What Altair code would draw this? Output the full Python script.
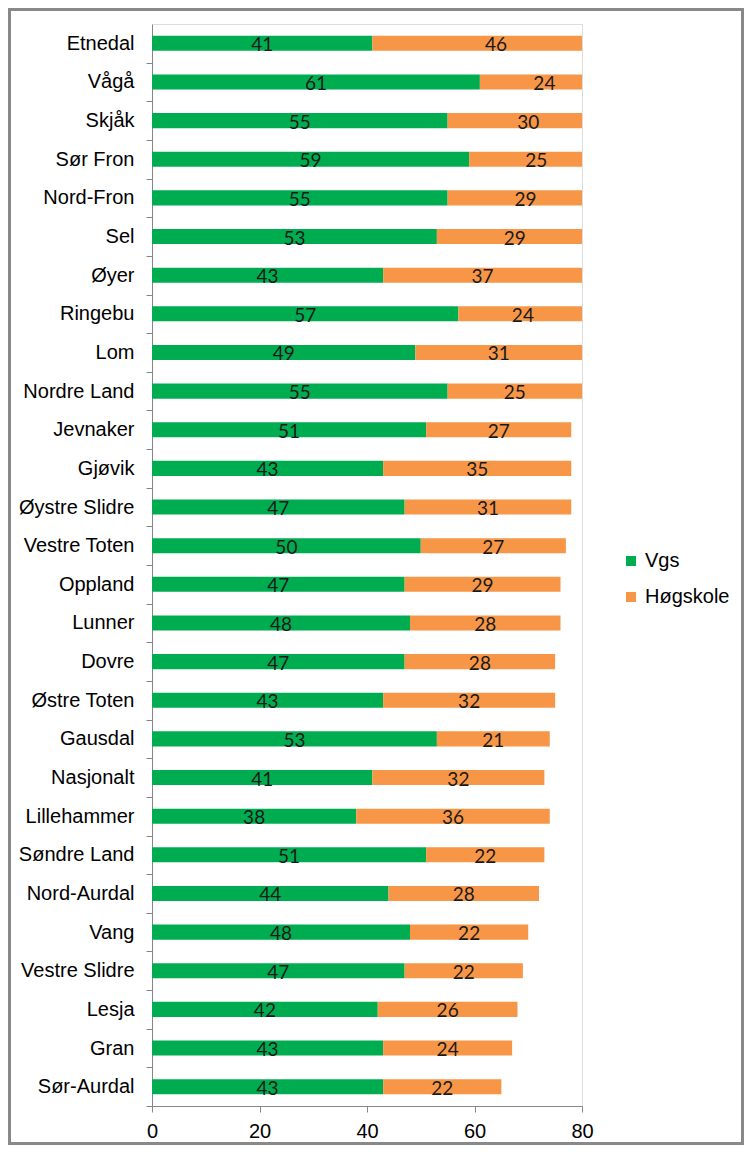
import altair as alt
import pandas as pd

categories = ["Etnedal", "Vågå", "Skjåk", "Sør Fron", "Nord-Fron", "Sel", "Øyer",
              "Ringebu", "Lom", "Nordre Land", "Jevnaker", "Gjøvik", "Øystre Slidre",
              "Vestre Toten", "Oppland", "Lunner", "Dovre", "Østre Toten", "Gausdal",
              "Nasjonalt", "Lillehammer", "Søndre Land", "Nord-Aurdal", "Vang",
              "Vestre Slidre", "Lesja", "Gran", "Sør-Aurdal"]
vgs = [41, 61, 55, 59, 55, 53, 43, 57, 49, 55, 51, 43, 47, 50, 47, 48, 47, 43, 53,
       41, 38, 51, 44, 48, 47, 42, 43, 43]
hogskole = [46, 24, 30, 25, 29, 29, 37, 24, 31, 25, 27, 35, 31, 27, 29, 28, 28, 32,
            21, 32, 36, 22, 28, 22, 22, 26, 24, 22]
series = ["Vgs", "Høgskole"]
colors = ["#00AC50", "#F79646"]
x_ticks = [0, 20, 40, 60, 80]

rows = []
for c, a, b in zip(categories, vgs, hogskole):
    rows.append({"cat": c, "series": series[0], "value": a, "start": 0, "end": a, "mid": a / 2})
    rows.append({"cat": c, "series": series[1], "value": b, "start": a, "end": a + b, "mid": a + b / 2})
df = pd.DataFrame(rows)

W, H = 430, 1082
PL, PT = 144, 16
SVG_W, SVG_H = 736, 1137
PR, PB = SVG_W - PL - W, SVG_H - PT - H

P_INNER = 0.61
STEP = H / len(categories)
TICK_SHIFT = P_INNER * STEP / 2

xscale = alt.Scale(domain=[0, 80], nice=False, zero=True)
yscale = alt.Scale(domain=categories, paddingInner=P_INNER, paddingOuter=P_INNER / 2)

base = alt.Chart(df)

bars = base.mark_bar(clip=True).encode(
    x=alt.X("start:Q", scale=xscale,
            axis=alt.Axis(values=x_ticks, title=None, grid=False, labelFontSize=20,
                          labelFont="Liberation Sans", labelColor="#000000",
                          tickSize=6, tickColor="#868686", domainColor="#868686",
                          labelPadding=9, labelFlush=False)),
    x2="end:Q",
    y=alt.Y("cat:N", scale=yscale, sort=categories,
            axis=alt.Axis(title=None, grid=False, labelFontSize=20,
                          labelFont="Liberation Sans", labelColor="#000000",
                          tickSize=6, tickColor="#868686", domainColor="#868686",
                          bandPosition=1, tickExtra=False, tickOffset=TICK_SHIFT,
                          labelOffset=-TICK_SHIFT, labelPadding=12)),
    color=alt.Color("series:N", scale=alt.Scale(domain=series, range=colors),
                    sort=series,
                    legend=alt.Legend(title=None, orient="none", legendX=469, legendY=527,
                                      symbolType="square", symbolSize=100,
                                      symbolStrokeWidth=0, labelFontSize=20,
                                      labelFont="Liberation Sans", labelColor="#000000",
                                      rowPadding=16, labelOffset=4, padding=0)),
)

labels = base.mark_text(font="Lato", fontSize=19, color="#1a1a1a", dy=2,
                        baseline="middle", align="center").encode(
    x=alt.X("mid:Q", scale=xscale),
    y=alt.Y("cat:N", scale=yscale, sort=categories),
    text=alt.Text("value:Q"),
)

frame = alt.Chart(pd.DataFrame({"f": [0]})).mark_rect(
    fill=None, stroke="#898989", strokeWidth=3, clip=False
).encode(
    x=alt.value(-PL + 1.5), x2=alt.value(W + PR - 1.5),
    y=alt.value(-PT + 1.5), y2=alt.value(H + PB - 1.5),
)

chart = alt.layer(bars, labels, frame).properties(
    width=W, height=H,
    autosize=alt.AutoSizeParams(type="none"),
    padding={"left": PL, "top": PT, "right": PR, "bottom": PB},
).configure_view(stroke=None).configure(background="white")

chart.save("out.html", embed_options={"renderer": "svg", "actions": False})
